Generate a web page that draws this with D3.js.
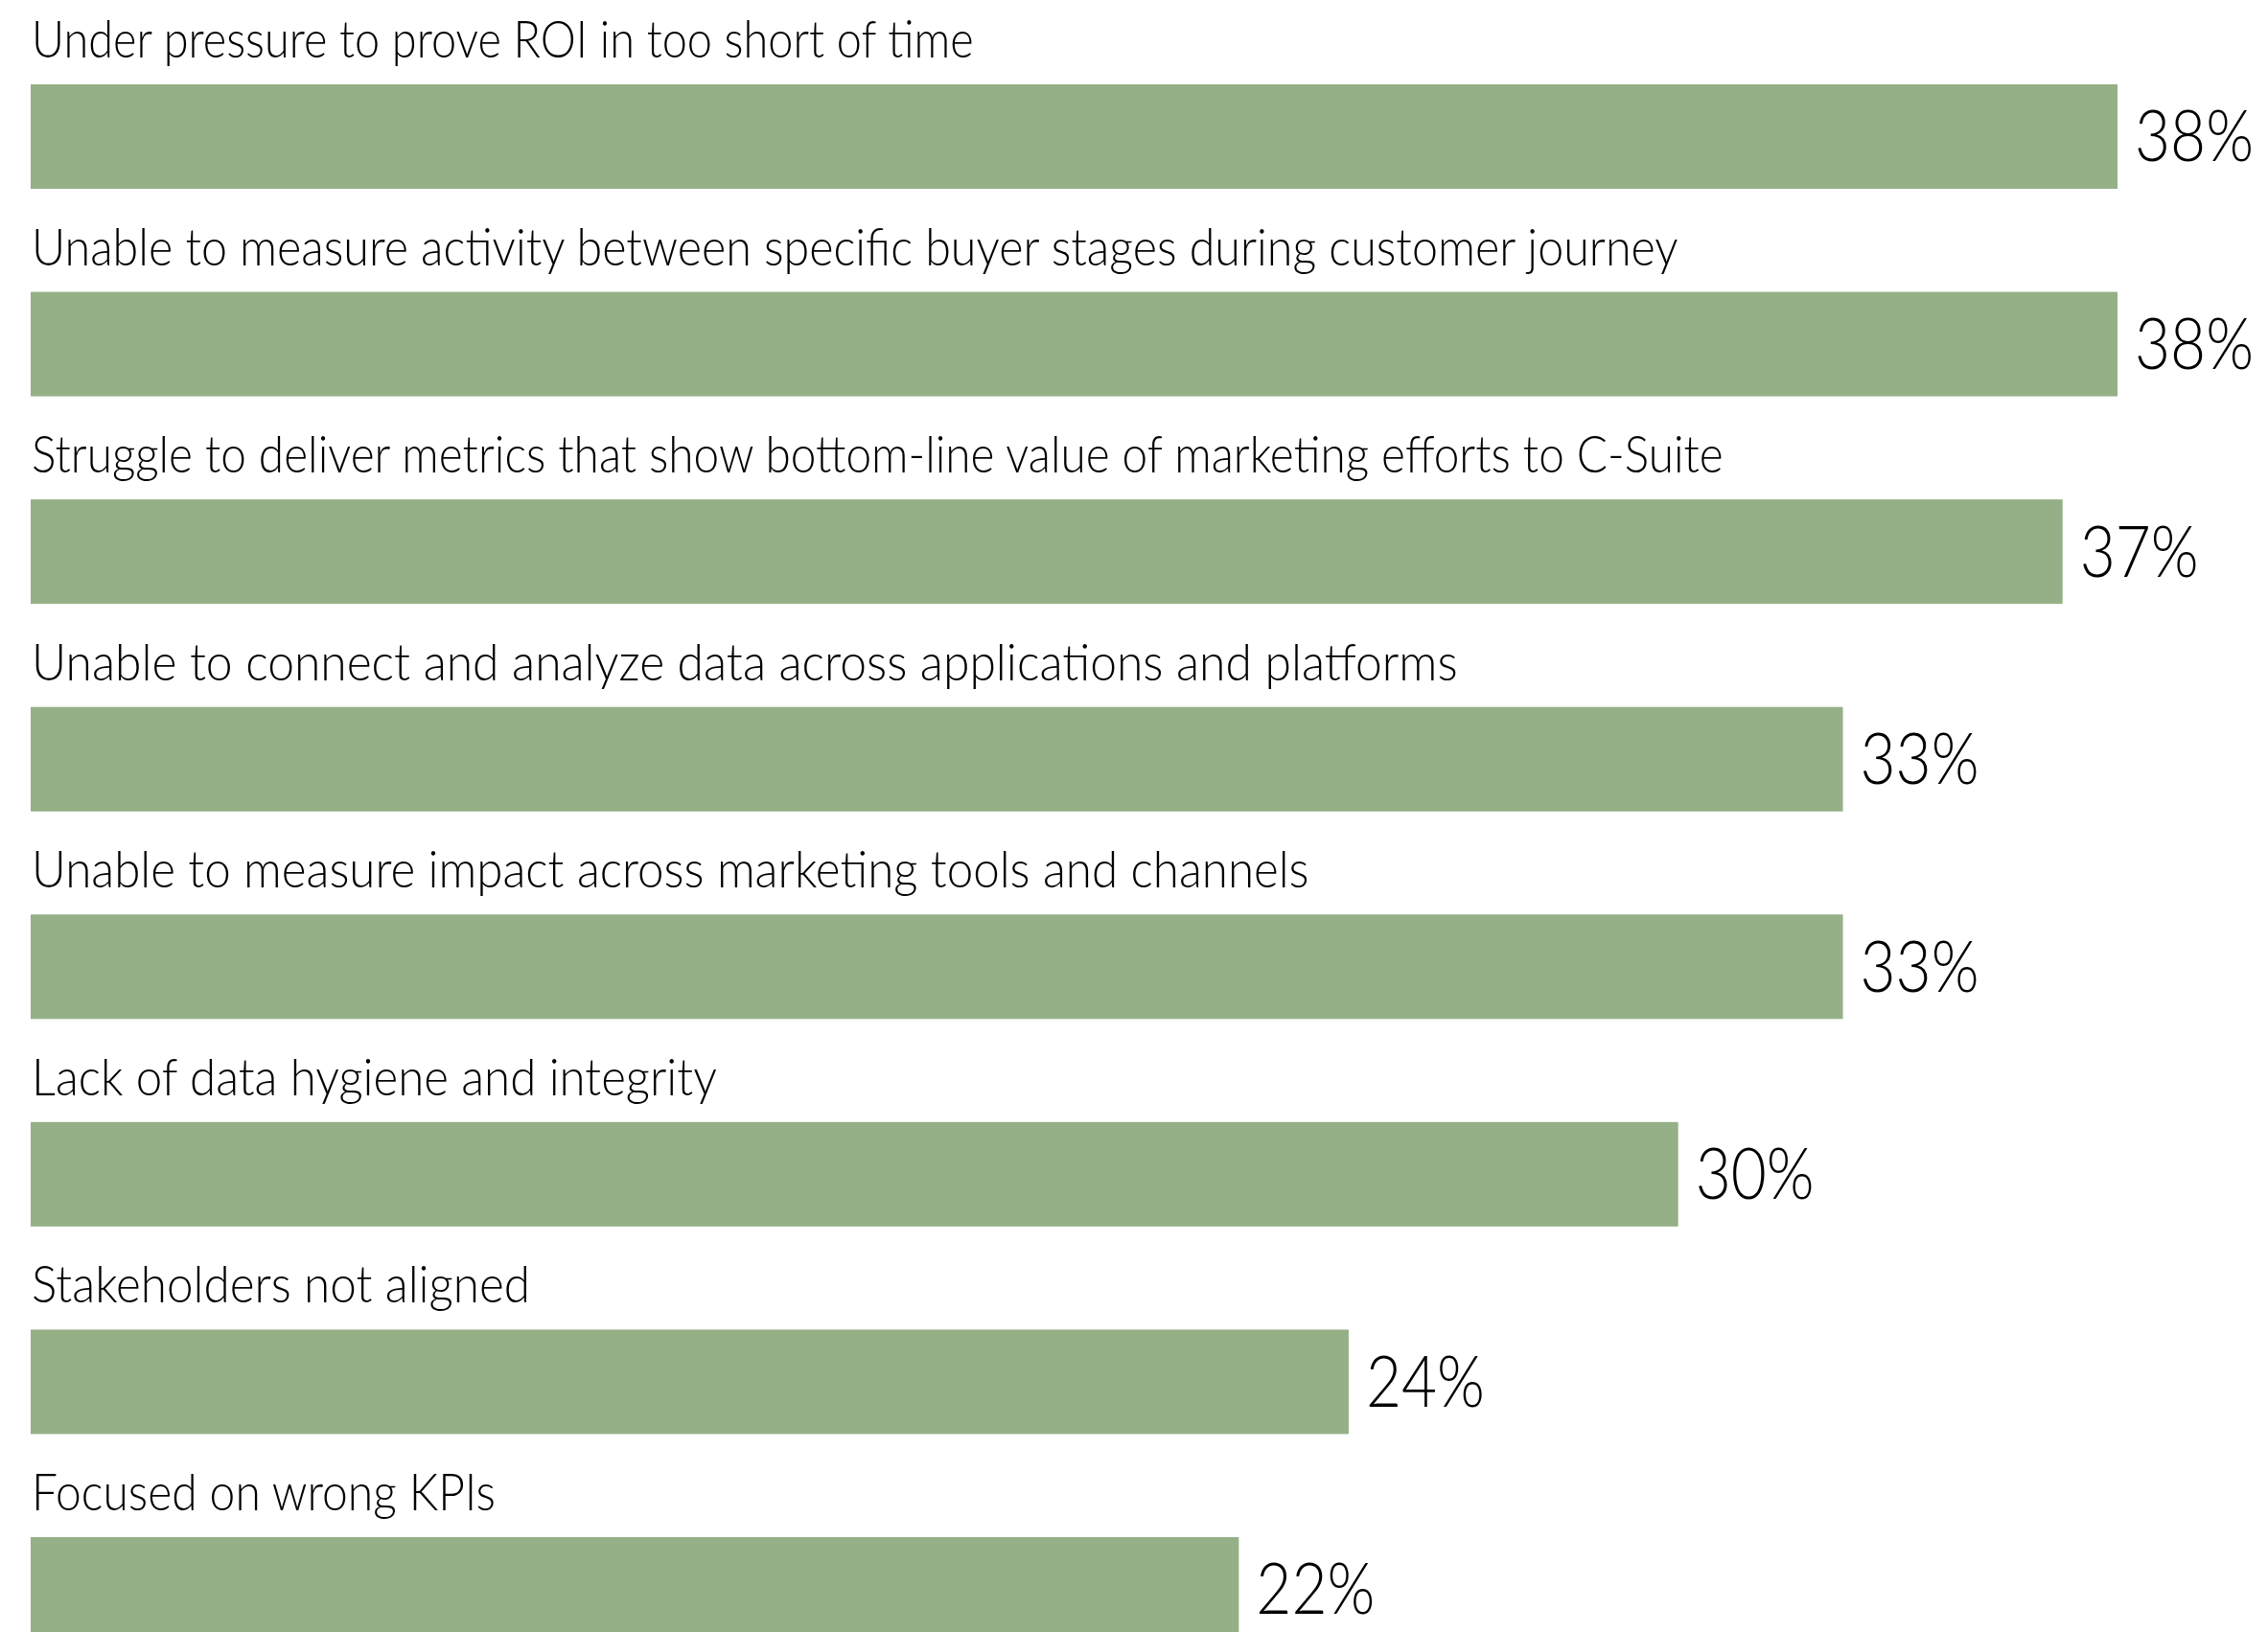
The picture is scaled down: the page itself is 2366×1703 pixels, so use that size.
<!DOCTYPE html>
<html>
<head>
<meta charset="utf-8">
<script src="https://cdn.jsdelivr.net/npm/d3@7"></script>
<style>
  html, body { margin: 0; padding: 0; background: #fff; overflow: hidden; }
  svg { display: block; }
</style>
</head>
<body>
<svg id="chart" width="2366" height="1703"></svg>
<script>
const categories = [
  "Under pressure to prove ROI in too short of time",
  "Unable to measure activity between specific buyer stages during customer journey",
  "Struggle to deliver metrics that show bottom-line value of marketing efforts to C-Suite",
  "Unable to connect and analyze data across applications and platforms",
  "Unable to measure impact across marketing tools and channels",
  "Lack of data hygiene and integrity",
  "Stakeholders not aligned",
  "Focused on wrong KPIs"
];
const values = [38, 38, 37, 33, 33, 30, 24, 22];
const valueLabels = ["38%", "38%", "37%", "33%", "33%", "30%", "24%", "22%"];
// measured rendered widths of the category labels in the reference (px)
const labelWidths = [983, 1718, 1765, 1488, 1333, 715, 520, 484];

const W = 2366, H = 1703;
const svg = d3.select("#chart");

const x = d3.scaleLinear().domain([0, 38]).range([32, 2209]);
const y = d3.scaleBand()
  .domain(categories)
  .range([88, 88 + 216.57 * (categories.length - 0.4967)])
  .paddingInner(0.4967)
  .paddingOuter(0);

const data = categories.map((c, i) => ({ c, v: values[i], lab: valueLabels[i], w: labelWidths[i] }));

const g = svg.append("g");

g.selectAll("rect.bar")
  .data(data)
  .join("rect")
  .attr("class", "bar")
  .attr("x", x(0))
  .attr("y", d => y(d.c))
  .attr("width", d => x(d.v) - x(0))
  .attr("height", y.bandwidth())
  .attr("fill", "#95b087");

// category labels: draw at natural size, then scale horizontally to the measured width
g.selectAll("text.cat")
  .data(data)
  .join("text")
  .attr("class", "cat")
  .attr("font-family", "Lato, 'Open Sans', sans-serif")
  .attr("font-weight", 300)
  .attr("font-size", 54)
  .attr("fill", "#000")
  .text(d => d.c)
  .each(function(d) {
    const nat = this.getComputedTextLength();
    const sx = d.w / nat;
    d3.select(this).attr("transform",
      `translate(${x(0) + 1},${y(d.c) - 28}) scale(${sx},1)`);
  });

// value labels
const valueWidth = 124;
g.selectAll("text.val")
  .data(data)
  .join("text")
  .attr("class", "val")
  .attr("font-family", "Lato, 'Open Sans', sans-serif")
  .attr("font-weight", 300)
  .attr("font-size", 74)
  .attr("fill", "#000")
  .text(d => d.lab)
  .each(function(d) {
    const nat = this.getComputedTextLength();
    const sx = valueWidth / nat;
    d3.select(this).attr("transform",
      `translate(${x(d.v) + 18},${y(d.c) + y.bandwidth() / 2 + 26}) scale(${sx},1)`);
  });
</script>
</body>
</html>
